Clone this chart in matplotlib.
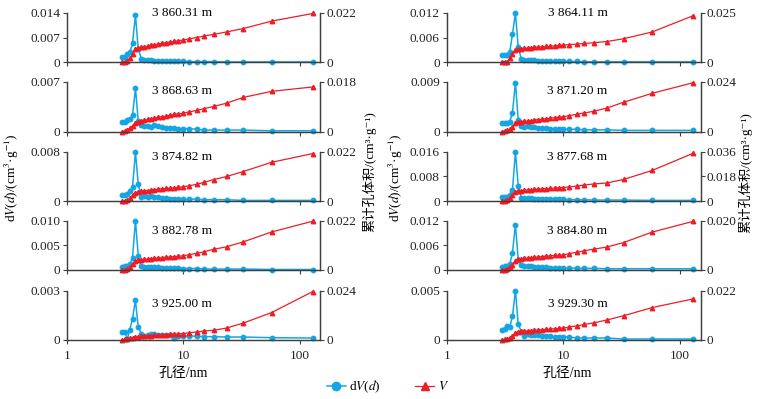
import matplotlib.pyplot as plt
from matplotlib.lines import Line2D

plt.rcParams['font.family'] = ['Liberation Serif', 'Noto Sans CJK SC', 'DejaVu Serif']
plt.rcParams['mathtext.fontset'] = 'stix'
plt.rcParams['font.size'] = 9

# pore diameter, nm (same grid for every sample)
d = [2.97, 3.13, 3.30, 3.47, 3.66, 3.88, 4.10, 4.37, 4.64, 4.96, 5.30, 5.65, 6.04, 6.54,
     7.07, 7.71, 8.40, 9.09, 9.97, 11.2, 13.1, 15.1, 18.2, 23.6, 32.8, 57.5, 130]

# dV(d) and cumulative V for each depth
dv_386031 = [0.0014, 0.0016, 0.0023, 0.0028, 0.0054, 0.0133, 0.0037, 0.0010, 0.0007, 0.0006,
             0.0006, 0.0005, 0.0005, 0.0005, 0.0004, 0.0004, 0.0003, 0.0003, 0.0003, 0.0002,
             0.0002, 0.0002, 0.0002, 0.0001, 0.0001, 0.0001, 0.0001]
v_386031 = [0, 0.0002, 0.0006, 0.0018, 0.0036, 0.0058, 0.0063, 0.0066, 0.0069, 0.0072,
            0.0075, 0.0078, 0.0081, 0.0084, 0.0087, 0.0090, 0.0093, 0.0096, 0.0099, 0.0104,
            0.0110, 0.0117, 0.0124, 0.0135, 0.0150, 0.0183, 0.0217]

dv_386411 = [0.0017, 0.0018, 0.0018, 0.0026, 0.0068, 0.0119, 0.0036, 0.0007, 0.0006, 0.0006,
             0.0005, 0.0005, 0.0004, 0.0004, 0.0003, 0.0003, 0.0003, 0.0002, 0.0002, 0.0002,
             0.0002, 0.0001, 0.0001, 0.0001, 0.0001, 0.0001, 0.0001]
v_386411 = [0, 0.0001, 0.0003, 0.0020, 0.0041, 0.0060, 0.0066, 0.0068, 0.0070, 0.0072,
            0.0073, 0.0075, 0.0077, 0.0078, 0.0080, 0.0081, 0.0083, 0.0085, 0.0087, 0.0089,
            0.0092, 0.0095, 0.0099, 0.0105, 0.0119, 0.0153, 0.0236]

dv_386863 = [0.0013, 0.0013, 0.0016, 0.0018, 0.0023, 0.0061, 0.0015, 0.0009, 0.0008, 0.0008,
             0.0006, 0.0009, 0.0008, 0.0006, 0.0005, 0.0005, 0.0005, 0.0004, 0.0004, 0.0004,
             0.0003, 0.0002, 0.0002, 0.0002, 0.0002, 0.0001, 0.0001]
v_386863 = [0, 0.0002, 0.0006, 0.0012, 0.0021, 0.0032, 0.0036, 0.0039, 0.0041, 0.0044,
            0.0046, 0.0049, 0.0051, 0.0054, 0.0056, 0.0059, 0.0062, 0.0064, 0.0067, 0.0071,
            0.0077, 0.0083, 0.0091, 0.0103, 0.0124, 0.0146, 0.0162]

dv_387120 = [0.0015, 0.0016, 0.0016, 0.0018, 0.0034, 0.0089, 0.0021, 0.0010, 0.0009, 0.0010,
             0.0008, 0.0008, 0.0007, 0.0006, 0.0006, 0.0005, 0.0005, 0.0005, 0.0004, 0.0004,
             0.0004, 0.0003, 0.0003, 0.0003, 0.0002, 0.0002, 0.0002]
v_387120 = [0, 0.0002, 0.0005, 0.0011, 0.0021, 0.0039, 0.0044, 0.0046, 0.0049, 0.0051,
            0.0053, 0.0055, 0.0058, 0.0060, 0.0062, 0.0064, 0.0067, 0.0069, 0.0071, 0.0077,
            0.0084, 0.0090, 0.0098, 0.0114, 0.0142, 0.0185, 0.0237]

dv_387482 = [0.0009, 0.0010, 0.0012, 0.0016, 0.0022, 0.0079, 0.0027, 0.0007, 0.0008, 0.0007,
             0.0008, 0.0007, 0.0006, 0.0005, 0.0005, 0.0004, 0.0004, 0.0004, 0.0003, 0.0003,
             0.0003, 0.0002, 0.0002, 0.0002, 0.0001, 0.0001, 0.0001]
v_387482 = [0, 0.0001, 0.0004, 0.0012, 0.0026, 0.0036, 0.0041, 0.0043, 0.0045, 0.0046,
            0.0048, 0.0050, 0.0052, 0.0054, 0.0056, 0.0057, 0.0059, 0.0061, 0.0063, 0.0068,
            0.0074, 0.0083, 0.0095, 0.0109, 0.0131, 0.0172, 0.0211]

dv_387768 = [0.0013, 0.0014, 0.0014, 0.0021, 0.0035, 0.0159, 0.0048, 0.0011, 0.0010, 0.0010,
             0.0009, 0.0008, 0.0008, 0.0007, 0.0007, 0.0006, 0.0006, 0.0005, 0.0005, 0.0004,
             0.0004, 0.0004, 0.0003, 0.0003, 0.0003, 0.0002, 0.0002]
v_387768 = [0, 0.0002, 0.0007, 0.0019, 0.0043, 0.0067, 0.0074, 0.0076, 0.0078, 0.0080,
            0.0082, 0.0084, 0.0086, 0.0088, 0.0090, 0.0092, 0.0094, 0.0096, 0.0098, 0.0103,
            0.0109, 0.0116, 0.0124, 0.0131, 0.0157, 0.0222, 0.0348]

dv_388278 = [0.0007, 0.0008, 0.0009, 0.0012, 0.0025, 0.0100, 0.0029, 0.0008, 0.0007, 0.0007,
             0.0006, 0.0006, 0.0006, 0.0005, 0.0005, 0.0004, 0.0004, 0.0004, 0.0003, 0.0003,
             0.0003, 0.0002, 0.0002, 0.0002, 0.0002, 0.0001, 0.0001]
v_388278 = [0, 0.0001, 0.0004, 0.0012, 0.0026, 0.0038, 0.0044, 0.0046, 0.0047, 0.0049,
            0.0050, 0.0052, 0.0053, 0.0055, 0.0057, 0.0058, 0.0060, 0.0061, 0.0063, 0.0068,
            0.0074, 0.0081, 0.0092, 0.0103, 0.0125, 0.0169, 0.0217]

dv_388480 = [0.0008, 0.0009, 0.0010, 0.0014, 0.0042, 0.0110, 0.0025, 0.0011, 0.0010, 0.0009,
             0.0009, 0.0008, 0.0008, 0.0007, 0.0007, 0.0006, 0.0006, 0.0005, 0.0005, 0.0005,
             0.0004, 0.0004, 0.0004, 0.0003, 0.0003, 0.0003, 0.0003]
v_388480 = [0, 0.0001, 0.0004, 0.0011, 0.0021, 0.0037, 0.0044, 0.0045, 0.0047, 0.0048,
            0.0050, 0.0051, 0.0053, 0.0054, 0.0056, 0.0057, 0.0059, 0.0060, 0.0061, 0.0066,
            0.0072, 0.0078, 0.0084, 0.0093, 0.0111, 0.0153, 0.0197]

dv_392500 = [0.00049, 0.00049, 0.00004, 0.00063, 0.0013, 0.0024, 0.00078, 0.00039, 0.00024,
             0.00033, 0.00035, 0.00035, 0.00033, 0.00031, 0.0003, 0.00028, 0.00012, 0.00026,
             0.00025, 0.00024, 0.00023, 0.00021, 0.0002, 0.00018, 0.00018, 0.00014, 0.00012]
v_392500 = [0, 0.0003, 0.0005, 0.0008, 0.0011, 0.0013, 0.0016, 0.0017, 0.0018, 0.0020,
            0.0021, 0.0022, 0.0023, 0.0025, 0.0026, 0.0027, 0.0028, 0.0030, 0.0031, 0.0035,
            0.0039, 0.0044, 0.0047, 0.0058, 0.0082, 0.0133, 0.0235]

dv_392930 = [0.0010, 0.0011, 0.0014, 0.0013, 0.0024, 0.0050, 0.0016, 0.0008, 0.0004, 0.0006,
             0.0005, 0.0005, 0.0005, 0.0004, 0.0004, 0.0004, 0.0003, 0.0003, 0.0003, 0.0003,
             0.0002, 0.0002, 0.0002, 0.0002, 0.0001, 0.0001, 0.0001]
v_392930 = [0, 0.0003, 0.0006, 0.0010, 0.0017, 0.0032, 0.0036, 0.0038, 0.0039, 0.0040,
            0.0042, 0.0043, 0.0045, 0.0046, 0.0047, 0.0049, 0.0050, 0.0052, 0.0053, 0.0058,
            0.0063, 0.0069, 0.0076, 0.0089, 0.0108, 0.0144, 0.0183]

# panel order: row by row, left then right
depths = ['3 860.31 m', '3 864.11 m', '3 868.63 m', '3 871.20 m', '3 874.82 m',
          '3 877.68 m', '3 882.78 m', '3 884.80 m', '3 925.00 m', '3 929.30 m']
dv_all = [dv_386031, dv_386411, dv_386863, dv_387120, dv_387482,
          dv_387768, dv_388278, dv_388480, dv_392500, dv_392930]
v_all = [v_386031, v_386411, v_386863, v_387120, v_387482,
         v_387768, v_388278, v_388480, v_392500, v_392930]

dv_ticks = [['0', '0.007', '0.014'], ['0', '0.006', '0.012'],
            ['0', '0.007'], ['0', '0.009'],
            ['0', '0.008'], ['0', '0.008', '0.016'],
            ['0', '0.005', '0.010'], ['0', '0.006', '0.012'],
            ['0', '0.003'], ['0', '0.005']]
v_ticks = [['0', '0.022'], ['0', '0.025'],
           ['0', '0.018'], ['0', '0.024'],
           ['0', '0.022'], ['0', '0.018', '0.036'],
           ['0', '0.022'], ['0', '0.020'],
           ['0', '0.024'], ['0', '0.022']]

blue = '#12A7E4'
red = '#EE1C25'
axc = '#404040'

W, H = 763, 399
fig = plt.figure(figsize=(W / 100, H / 100), dpi=100)

col_x = [67, 446.7]
col_w = [253, 254]
row_b = [62.3, 131.5, 201, 270, 340]
ax_h = 49.5
lab_y = [1.0, 0.82, 0.88, 0.79, 0.73]
lab_x = [0.455, 0.515]

for i in range(10):
    r, c = divmod(i, 2)
    ax = fig.add_axes([col_x[c] / W, 1 - row_b[r] / H, col_w[c] / W, ax_h / H])
    ax2 = ax.twinx()
    ax.plot(d, dv_all[i], '-o', color=blue, ms=3.2, lw=1.1, clip_on=False)
    ax2.plot(d, v_all[i], '-^', color=red, ms=3.2, lw=0.9, clip_on=False)
    ax.set_xscale('log')
    ax.set_xlim(1, 150)
    ax.set_xticks([1, 10, 100])
    ax.minorticks_off()
    ax2.minorticks_off()
    if r == 4:
        ax.set_xticklabels(['1', '10', '100'])
    else:
        ax.set_xticklabels([])
    lt = [float(t) for t in dv_ticks[i]]
    rt = [float(t) for t in v_ticks[i]]
    ax.set_ylim(0, lt[-1])
    ax.set_yticks(lt)
    ax.set_yticklabels(dv_ticks[i])
    ax2.set_ylim(0, rt[-1])
    ax2.set_yticks(rt)
    ax2.set_yticklabels(v_ticks[i])
    for a in (ax, ax2):
        a.spines['top'].set_visible(False)
        for s in ('left', 'right', 'bottom'):
            a.spines[s].set_color(axc)
            a.spines[s].set_linewidth(0.9)
        a.tick_params(length=3, width=0.8, color=axc, labelsize=9.5, labelcolor='#222222')
    ax.tick_params(axis='y', pad=2)
    ax.tick_params(axis='x', pad=4)
    ax2.tick_params(axis='y', pad=1.5)
    ax.text(lab_x[c], lab_y[r], depths[i], transform=ax.transAxes,
            ha='center', va='center', fontsize=9.5)

dv_label = r'd$\mathit{V}$($\mathit{d}$)/(cm$^{3}$·g$^{-1}$)'
v_label = '累计孔体积/(cm³·g⁻¹)'
fig.text(12 / W, 1 - 178 / H, dv_label, rotation=90, ha='center', va='center', fontsize=9.5)
fig.text(396 / W, 1 - 178 / H, dv_label, rotation=90, ha='center', va='center', fontsize=9.5)
fig.text(369 / W, 1 - 172 / H, v_label, rotation=90, ha='center', va='center', fontsize=9.5)
fig.text(745 / W, 1 - 173 / H, v_label, rotation=90, ha='center', va='center', fontsize=9.5)
fig.text(183 / W, 1 - 373 / H, '孔径/nm', ha='center', va='center', fontsize=10)
fig.text(567 / W, 1 - 373 / H, '孔径/nm', ha='center', va='center', fontsize=10)

handles = [Line2D([], [], color=blue, marker='o', ms=6, lw=1.1),
           Line2D([], [], color=red, marker='^', ms=6, lw=0.9)]
fig.legend(handles, [r'd$\mathit{V}$($\mathit{d}$)', r'$\mathit{V}$'], loc='center',
           bbox_to_anchor=(388 / W, 1 - 387 / H), ncol=2, frameon=False,
           handlelength=1.4, columnspacing=2.6, handletextpad=0.3, fontsize=9.5)

fig.savefig('out.png', dpi=100)
